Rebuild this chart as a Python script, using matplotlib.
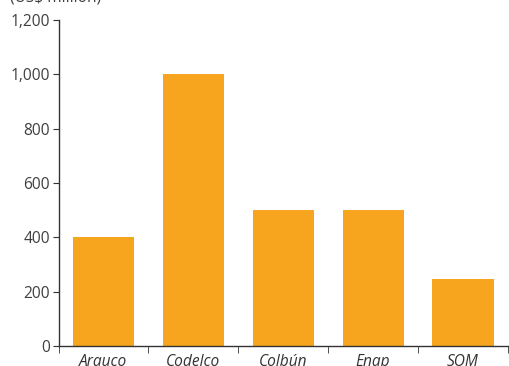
import matplotlib.pyplot as plt
import numpy as np

plt.rcParams['font.family'] = ['Open Sans', 'DejaVu Sans']

companies = ['Arauco', 'Codelco', 'Colbún', 'Enap', 'SOM']
values = [400, 1000, 500, 500, 247]
yticks = [0, 200, 400, 600, 800, 1000, 1200]
ylabels = ['0', '200', '400', '600', '800', '1,000', '1,200']

fig = plt.figure(figsize=(5.09, 3.66), dpi=100)
ax = fig.add_axes([58.5/509, 20/366, 449.5/509, 326/366])

x = np.arange(len(companies))
ax.bar(x, values, width=0.68, color='#F7A51E')

ax.set_xlim(-0.5, len(companies) - 0.5)
ax.set_ylim(0, 1200)
ax.set_yticks(yticks)
ax.set_yticklabels(ylabels)
ax.set_xticks(x)
ax.set_xticklabels(companies, fontstyle='italic')
ax.set_xticks(np.arange(-0.5, len(companies)), minor=True)

ax.spines['top'].set_visible(False)
ax.spines['right'].set_visible(False)
for s in ['left', 'bottom']:
    ax.spines[s].set_color('#333333')
    ax.spines[s].set_linewidth(1.0)

ax.tick_params(axis='x', which='major', length=0, pad=6, labelsize=11.2, labelcolor='#333333')
ax.tick_params(axis='x', which='minor', length=5, direction='out', color='#333333')
ax.tick_params(axis='y', length=4, direction='out', color='#333333', labelsize=11.2, labelcolor='#404040', pad=2)

fig.text(10/509, 1 - 2/366, '(US$ million)', fontsize=11.2, color='#404040', va='baseline', ha='left')

fig.savefig('out.png', dpi=100)
